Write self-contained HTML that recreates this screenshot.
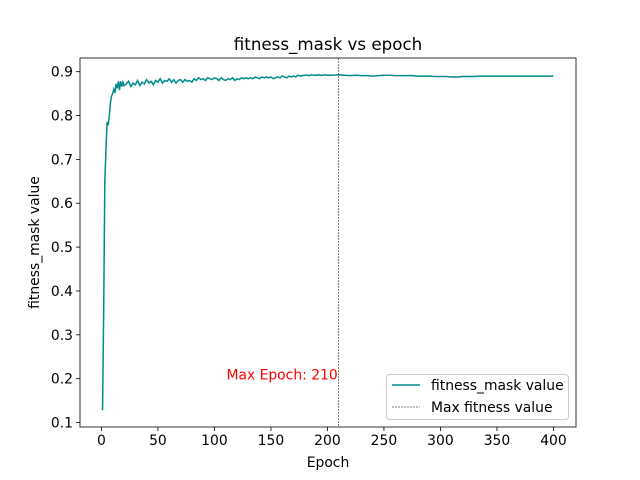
<!DOCTYPE html>
<html><head><meta charset="utf-8"><style>
body{margin:0;background:#fff}
svg{display:block;font-family:"DejaVu Sans","Liberation Sans",sans-serif}
</style></head><body>
<svg id="chart" width="640" height="480" viewBox="0 0 640 480">
<rect x="0" y="0" width="640" height="480" fill="#fff"/>
<text x="328" y="50" font-size="16.7" text-anchor="middle">fitness_mask vs epoch</text>
<g id="plot"></g>
<text x="328" y="467" font-size="13.9" text-anchor="middle">Epoch</text>
<text transform="translate(39,242.5) rotate(-90)" font-size="13.9" text-anchor="middle">fitness_mask value</text>
</svg>
<script>
const epochs = [1,2,3,4,5,6,7,8,9,10,11,12,13,14,15,16,17,18,19,20,
22,24,26,28,30,32,34,36,38,40,42,44,46,48,50,52,54,56,58,60,62,64,66,68,70,72,74,76,78,80,
82,84,86,88,90,92,94,96,98,100,102,104,106,108,110,112,114,116,118,120,122,124,126,128,130,
132,134,136,138,140,142,144,146,148,150,152,154,156,158,160,162,164,166,168,170,172,174,176,178,180,
182,184,186,188,190,192,194,196,198,200,205,210,215,220,225,230,235,240,245,250,255,260,265,270,275,280,
285,290,295,300,305,310,315,320,325,330,335,340,345,350,355,360,365,370,375,380,385,390,395,400];
const values = [0.128,0.35,0.65,0.72,0.785,0.778,0.80,0.83,0.845,0.85,0.86,0.852,0.872,0.862,0.878,0.858,0.878,0.866,0.876,0.868,
0.872,0.878,0.866,0.874,0.870,0.880,0.868,0.876,0.872,0.882,0.874,0.878,0.870,0.880,0.876,0.884,0.874,0.880,0.878,0.884,
0.876,0.882,0.874,0.880,0.882,0.876,0.882,0.878,0.880,0.876,0.884,0.880,0.886,0.882,0.884,0.880,0.886,0.884,0.882,0.886,
0.884,0.880,0.886,0.882,0.880,0.884,0.882,0.886,0.880,0.884,0.882,0.886,0.884,0.886,0.884,
0.886,0.884,0.888,0.886,0.884,0.888,0.886,0.888,0.886,0.888,0.884,0.886,0.888,0.886,0.890,
0.888,0.886,0.890,0.888,0.890,0.888,0.892,0.890,0.891,0.892,
0.892,0.891,0.893,0.892,0.892,0.893,0.892,0.892,0.893,0.892,0.892,0.893,0.892,0.891,0.892,0.891,0.891,0.890,0.891,0.892,
0.892,0.891,0.891,0.891,0.891,0.890,0.890,0.890,0.889,0.889,
0.889,0.888,0.888,0.889,0.889,0.889,0.890,0.890,0.890,0.890,0.890,0.890,0.890,0.890,0.890,0.890,0.890,0.890,0.890,0.890];
const xTicks = [0,50,100,150,200,250,300,350,400];
const yTicks = [0.1,0.2,0.3,0.4,0.5,0.6,0.7,0.8,0.9];
const maxEpoch = 210;

const L=80,R=576,T=58,B=427;
const xmin=-18.95,xmax=419.95,ymin=0.0898,ymax=0.9312;
const sx=v=>L+(v-xmin)/(xmax-xmin)*(R-L);
const sy=v=>B-(v-ymin)/(ymax-ymin)*(B-T);
const NS="http://www.w3.org/2000/svg";
const g=document.getElementById('plot');
function mk(tag,attrs,parent){const e=document.createElementNS(NS,tag);for(const k in attrs)e.setAttribute(k,attrs[k]);(parent||g).appendChild(e);return e;}

xTicks.forEach(t=>{
  const l=mk('line',{x1:sx(t),x2:sx(t),y1:B,y2:B+4,stroke:'#000','stroke-width':0.8});
  
  
  const tx=mk('text',{x:sx(t),y:B+18,'font-size':13.9,'text-anchor':'middle'});
  tx.textContent=t;
  
  
});
yTicks.forEach(t=>{
  const l=mk('line',{x1:L-4,x2:L,y1:sy(t),y2:sy(t),stroke:'#000','stroke-width':0.8});
  
  
  const tx=mk('text',{x:L-7,y:sy(t)+5,'font-size':13.9,'text-anchor':'end'});
  tx.textContent=t.toFixed(1);
  
  
});

const line=mk('polyline',{points:epochs.map((e,i)=>sx(e)+','+sy(values[i])).join(' '),fill:'none',stroke:'#008b8b','stroke-width':1.5});



const vl=mk('line',{x1:sx(maxEpoch),x2:sx(maxEpoch),y1:T,y2:B,stroke:'#000','stroke-width':0.5,'stroke-dasharray':'2,1'});


const ann=mk('text',{x:sx(maxEpoch)-1,y:sy(0.2)+1,'font-size':13.9,fill:'red','text-anchor':'end'});
ann.textContent='Max Epoch: '+maxEpoch;



const frame=mk('rect',{x:L,y:T,width:R-L,height:B-T,fill:'none',stroke:'#000','stroke-width':0.8});



const lg=mk('g',{});


mk('rect',{x:386.5,y:374.5,width:182,height:45,rx:3,fill:'#fff','fill-opacity':0.8,stroke:'#ccc'},lg);
mk('line',{x1:392,x2:420,y1:385,y2:385,stroke:'#008b8b','stroke-width':1.5},lg);
const t1=mk('text',{x:431,y:390,'font-size':13.9},lg);t1.textContent='fitness_mask value';


mk('line',{x1:392,x2:420,y1:407,y2:407,stroke:'#000','stroke-width':0.5,'stroke-dasharray':'2,1'},lg);
const t2=mk('text',{x:431,y:412,'font-size':13.9},lg);t2.textContent='Max fitness value';


</script>
</body></html>
